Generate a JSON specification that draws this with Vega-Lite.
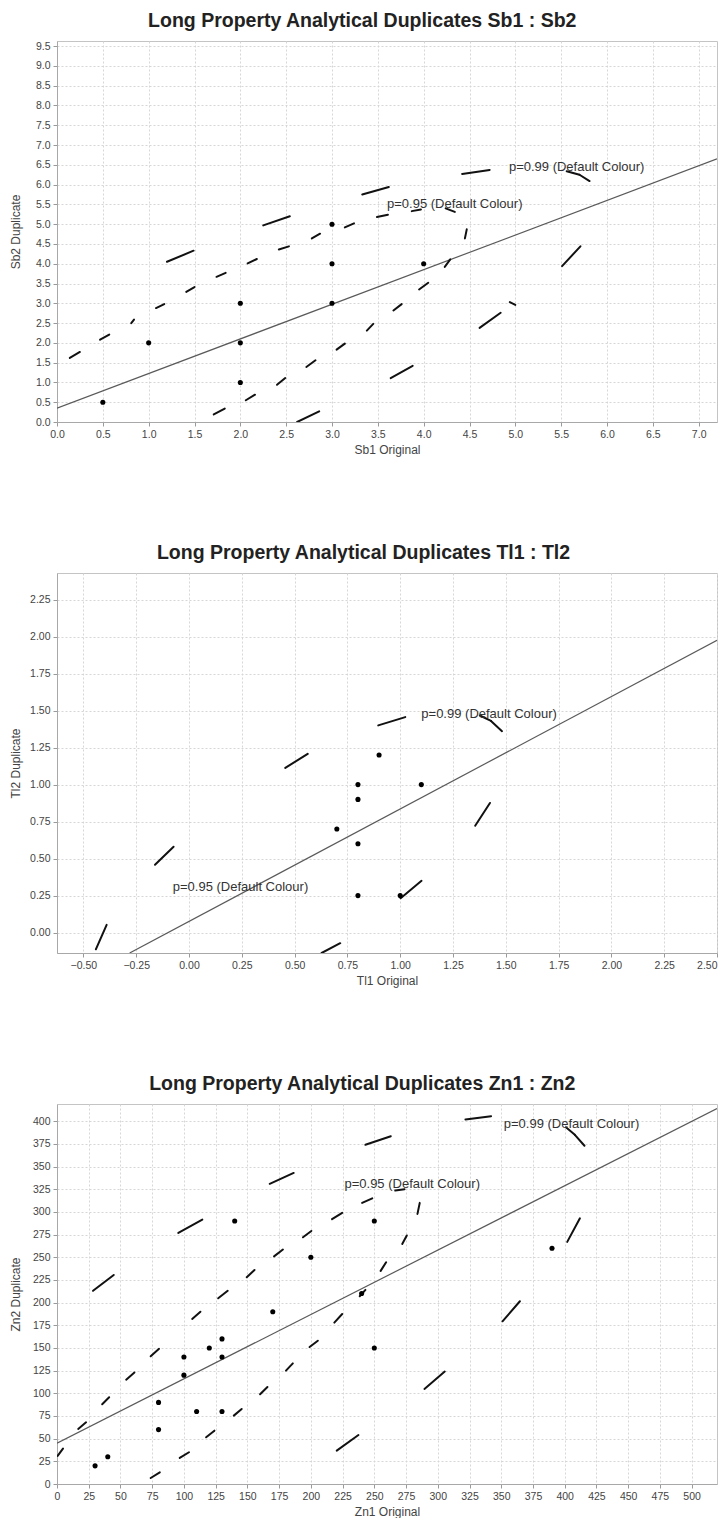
{
  "$schema": "https://vega.github.io/schema/vega-lite/v6.json",
  "background": "white",
  "padding": {"left": 9, "top": 10, "right": 8, "bottom": 0},
  "columns": 1,
  "spacing": 86,
  "datasets": {
    "sb_points": [
      {"x": 0.5, "y": 0.5}, {"x": 1.0, "y": 2.0}, {"x": 2.0, "y": 3.0}, {"x": 2.0, "y": 2.0},
      {"x": 2.0, "y": 1.0}, {"x": 3.0, "y": 5.0}, {"x": 3.0, "y": 4.0}, {"x": 3.0, "y": 3.0},
      {"x": 4.0, "y": 4.0}
    ],
    "sb_fit": [{"x": 0, "y": 0.35}, {"x": 7.2, "y": 6.65}],
    "sb_ellipse": [
      {"level": "0.95", "x": 0.14, "y": 1.62, "x2": 0.25, "y2": 1.77},
      {"level": "0.95", "x": 0.47, "y": 2.08, "x2": 0.57, "y2": 2.21},
      {"level": "0.95", "x": 0.81, "y": 2.50, "x2": 0.84, "y2": 2.59},
      {"level": "0.95", "x": 1.08, "y": 2.88, "x2": 1.17, "y2": 2.98},
      {"level": "0.95", "x": 1.41, "y": 3.29, "x2": 1.50, "y2": 3.41},
      {"level": "0.95", "x": 1.74, "y": 3.67, "x2": 1.84, "y2": 3.77},
      {"level": "0.95", "x": 2.08, "y": 4.01, "x2": 2.18, "y2": 4.12},
      {"level": "0.95", "x": 2.42, "y": 4.36, "x2": 2.53, "y2": 4.44},
      {"level": "0.95", "x": 2.78, "y": 4.64, "x2": 2.87, "y2": 4.76},
      {"level": "0.95", "x": 3.14, "y": 4.92, "x2": 3.24, "y2": 5.02},
      {"level": "0.95", "x": 3.49, "y": 5.18, "x2": 3.61, "y2": 5.24},
      {"level": "0.95", "x": 3.87, "y": 5.33, "x2": 3.97, "y2": 5.37},
      {"level": "0.95", "x": 4.24, "y": 5.40, "x2": 4.34, "y2": 5.31},
      {"level": "0.95", "x": 4.47, "y": 4.87, "x2": 4.45, "y2": 4.64},
      {"level": "0.95", "x": 4.23, "y": 3.92, "x2": 4.29, "y2": 4.11},
      {"level": "0.95", "x": 3.95, "y": 3.35, "x2": 4.05, "y2": 3.52},
      {"level": "0.95", "x": 3.67, "y": 2.82, "x2": 3.76, "y2": 2.98},
      {"level": "0.95", "x": 3.38, "y": 2.31, "x2": 3.45, "y2": 2.48},
      {"level": "0.95", "x": 3.05, "y": 1.83, "x2": 3.14, "y2": 1.98},
      {"level": "0.95", "x": 2.72, "y": 1.39, "x2": 2.82, "y2": 1.56},
      {"level": "0.95", "x": 2.40, "y": 0.94, "x2": 2.49, "y2": 1.11},
      {"level": "0.95", "x": 2.06, "y": 0.55, "x2": 2.16, "y2": 0.69},
      {"level": "0.95", "x": 1.71, "y": 0.19, "x2": 1.83, "y2": 0.34},
      {"level": "0.99", "x": 1.20, "y": 4.05, "x2": 1.49, "y2": 4.33},
      {"level": "0.99", "x": 2.25, "y": 4.97, "x2": 2.54, "y2": 5.20},
      {"level": "0.99", "x": 3.33, "y": 5.75, "x2": 3.62, "y2": 5.94},
      {"level": "0.99", "x": 4.42, "y": 6.27, "x2": 4.72, "y2": 6.37},
      {"level": "0.99", "x": 5.56, "y": 6.34, "x2": 5.70, "y2": 6.25},
      {"level": "0.99", "x": 5.70, "y": 6.25, "x2": 5.81, "y2": 6.09},
      {"level": "0.99", "x": 5.51, "y": 3.94, "x2": 5.71, "y2": 4.44},
      {"level": "0.99", "x": 4.94, "y": 3.03, "x2": 5.00, "y2": 2.96},
      {"level": "0.99", "x": 4.61, "y": 2.38, "x2": 4.84, "y2": 2.76},
      {"level": "0.99", "x": 3.64, "y": 1.11, "x2": 3.88, "y2": 1.42},
      {"level": "0.99", "x": 2.62, "y": 0.0, "x2": 2.86, "y2": 0.27}
    ],
    "sb_labels": [
      {"x": 4.93, "y": 6.45, "label": "p=0.99 (Default Colour)"},
      {"x": 3.60, "y": 5.52, "label": "p=0.95 (Default Colour)"}
    ],
    "tl_points": [
      {"x": 0.7, "y": 0.7}, {"x": 0.8, "y": 1.0}, {"x": 0.8, "y": 0.9}, {"x": 0.8, "y": 0.6},
      {"x": 0.8, "y": 0.25}, {"x": 0.9, "y": 1.2}, {"x": 1.0, "y": 0.25}, {"x": 1.1, "y": 1.0}
    ],
    "tl_fit": [{"x": -0.281, "y": -0.138}, {"x": 2.5, "y": 1.975}],
    "tl_ellipse": [
      {"level": "0.99", "x": 0.896, "y": 1.400, "x2": 1.024, "y2": 1.456},
      {"level": "0.99", "x": 1.377, "y": 1.467, "x2": 1.430, "y2": 1.430},
      {"level": "0.99", "x": 1.430, "y": 1.430, "x2": 1.482, "y2": 1.361},
      {"level": "0.99", "x": 1.425, "y": 0.876, "x2": 1.355, "y2": 0.722},
      {"level": "0.99", "x": 1.002, "y": 0.232, "x2": 1.101, "y2": 0.350},
      {"level": "0.99", "x": 0.716, "y": -0.072, "x2": 0.628, "y2": -0.138},
      {"level": "0.95", "x": -0.390, "y": 0.052, "x2": -0.441, "y2": -0.113},
      {"level": "0.95", "x": -0.073, "y": 0.580, "x2": -0.161, "y2": 0.458},
      {"level": "0.95", "x": 0.562, "y": 1.208, "x2": 0.456, "y2": 1.113}
    ],
    "tl_labels": [
      {"x": 1.10, "y": 1.478, "label": "p=0.99 (Default Colour)"},
      {"x": -0.077, "y": 0.305, "label": "p=0.95 (Default Colour)"}
    ],
    "zn_points": [
      {"x": 30, "y": 20}, {"x": 40, "y": 30}, {"x": 80, "y": 90}, {"x": 80, "y": 60},
      {"x": 100, "y": 140}, {"x": 100, "y": 120}, {"x": 110, "y": 80}, {"x": 120, "y": 150},
      {"x": 130, "y": 160}, {"x": 130, "y": 140}, {"x": 130, "y": 80}, {"x": 140, "y": 290},
      {"x": 170, "y": 190}, {"x": 200, "y": 250}, {"x": 240, "y": 210}, {"x": 250, "y": 290},
      {"x": 250, "y": 150}, {"x": 390, "y": 260}
    ],
    "zn_fit": [{"x": 0, "y": 45}, {"x": 520, "y": 414}],
    "zn_ellipse": [
      {"level": "0.95", "x": 0.5, "y": 31, "x2": 4.7, "y2": 39},
      {"level": "0.95", "x": 16.7, "y": 60.7, "x2": 22.9, "y2": 68},
      {"level": "0.95", "x": 35.6, "y": 88, "x2": 41.1, "y2": 95.6},
      {"level": "0.95", "x": 54.5, "y": 115, "x2": 61, "y2": 123},
      {"level": "0.95", "x": 73.8, "y": 140.8, "x2": 80.4, "y2": 149},
      {"level": "0.95", "x": 106.5, "y": 182, "x2": 113, "y2": 190},
      {"level": "0.95", "x": 127, "y": 204.8, "x2": 134.5, "y2": 213},
      {"level": "0.95", "x": 149.5, "y": 228, "x2": 155.6, "y2": 236},
      {"level": "0.95", "x": 171, "y": 251, "x2": 178, "y2": 258.5},
      {"level": "0.95", "x": 193.8, "y": 272, "x2": 200.4, "y2": 279},
      {"level": "0.95", "x": 216.7, "y": 292, "x2": 224.7, "y2": 299},
      {"level": "0.95", "x": 240.4, "y": 310, "x2": 248.4, "y2": 315},
      {"level": "0.95", "x": 266.5, "y": 323.5, "x2": 273.8, "y2": 325},
      {"level": "0.95", "x": 285.8, "y": 310, "x2": 284, "y2": 297.8},
      {"level": "0.95", "x": 275.6, "y": 274, "x2": 272, "y2": 264.7},
      {"level": "0.95", "x": 259.3, "y": 244.5, "x2": 255, "y2": 235},
      {"level": "0.95", "x": 238.5, "y": 207, "x2": 243, "y2": 214},
      {"level": "0.95", "x": 224.7, "y": 187.5, "x2": 218.5, "y2": 178},
      {"level": "0.95", "x": 205.5, "y": 158, "x2": 199, "y2": 151},
      {"level": "0.95", "x": 185.8, "y": 133, "x2": 180.4, "y2": 125},
      {"level": "0.95", "x": 165.8, "y": 107, "x2": 160, "y2": 99},
      {"level": "0.95", "x": 145.5, "y": 82.7, "x2": 139.3, "y2": 75.4},
      {"level": "0.95", "x": 124, "y": 58.8, "x2": 117.5, "y2": 51.5},
      {"level": "0.95", "x": 104, "y": 35, "x2": 96.7, "y2": 28.7},
      {"level": "0.95", "x": 81, "y": 12.9, "x2": 73.8, "y2": 6.6},
      {"level": "0.99", "x": 28.4, "y": 213, "x2": 44.7, "y2": 230.5},
      {"level": "0.99", "x": 95.6, "y": 276.8, "x2": 114.5, "y2": 291.5},
      {"level": "0.99", "x": 167.6, "y": 331, "x2": 186.5, "y2": 343},
      {"level": "0.99", "x": 243, "y": 374, "x2": 263, "y2": 383.5},
      {"level": "0.99", "x": 321.8, "y": 402, "x2": 342, "y2": 405.5},
      {"level": "0.99", "x": 401, "y": 393.4, "x2": 408, "y2": 385},
      {"level": "0.99", "x": 408, "y": 385, "x2": 415.6, "y2": 373},
      {"level": "0.99", "x": 412, "y": 293, "x2": 402, "y2": 267},
      {"level": "0.99", "x": 364.7, "y": 201.5, "x2": 351, "y2": 179.4},
      {"level": "0.99", "x": 305.5, "y": 124, "x2": 289.5, "y2": 104.8},
      {"level": "0.99", "x": 237.5, "y": 54, "x2": 220.4, "y2": 36.8}
    ],
    "zn_labels": [
      {"x": 352, "y": 396.5, "label": "p=0.99 (Default Colour)"},
      {"x": 226.5, "y": 331, "label": "p=0.95 (Default Colour)"}
    ]
  },
  "concat": [
    {
      "width": 660,
      "height": 381,
      "title": {"text": "Long Property Analytical Duplicates Sb1 : Sb2", "dx": -1},
      "encoding": {
        "x": {"field": "x", "type": "quantitative", "title": "Sb1 Original",
              "scale": {"domain": [0, 7.2], "nice": false, "zero": false},
              "axis": {"values": [0, 0.5, 1, 1.5, 2, 2.5, 3, 3.5, 4, 4.5, 5, 5.5, 6, 6.5, 7], "format": ".1f"}},
        "y": {"field": "y", "type": "quantitative", "title": "Sb2 Duplicate",
              "scale": {"domain": [0, 9.63], "nice": false, "zero": false},
              "axis": {"values": [0, 0.5, 1, 1.5, 2, 2.5, 3, 3.5, 4, 4.5, 5, 5.5, 6, 6.5, 7, 7.5, 8, 8.5, 9, 9.5], "format": ".1f",
                       "minExtent": 29.5, "maxExtent": 29.5}}
      },
      "layer": [
        {"data": {"name": "sb_fit"}, "mark": {"type": "line", "color": "#5a5a5a", "strokeWidth": 1.2, "clip": true}},
        {"data": {"name": "sb_ellipse"}, "mark": {"type": "rule", "color": "#111", "strokeWidth": 2, "strokeCap": "round", "clip": true},
         "encoding": {"x2": {"field": "x2"}, "y2": {"field": "y2"}}},
        {"data": {"name": "sb_points"}, "mark": {"type": "circle", "color": "#000", "size": 26, "opacity": 1}},
        {"data": {"name": "sb_labels"}, "mark": {"type": "text", "align": "left", "baseline": "middle", "fontSize": 13, "color": "#333"},
         "encoding": {"text": {"field": "label"}}}
      ]
    },
    {
      "width": 660,
      "height": 380,
      "title": {"text": "Long Property Analytical Duplicates Tl1 : Tl2", "dx": 0},
      "encoding": {
        "x": {"field": "x", "type": "quantitative", "title": "Tl1 Original",
              "scale": {"domain": [-0.625, 2.5], "nice": false, "zero": false},
              "axis": {"values": [-0.5, -0.25, 0, 0.25, 0.5, 0.75, 1, 1.25, 1.5, 1.75, 2, 2.25, 2.5], "format": ".2f", "labelFlush": true}},
        "y": {"field": "y", "type": "quantitative", "title": "Tl2 Duplicate",
              "scale": {"domain": [-0.138, 2.43], "nice": false, "zero": false},
              "axis": {"values": [0, 0.25, 0.5, 0.75, 1, 1.25, 1.5, 1.75, 2, 2.25], "format": ".2f",
                       "minExtent": 29.5, "maxExtent": 29.5}}
      },
      "layer": [
        {"data": {"name": "tl_fit"}, "mark": {"type": "line", "color": "#5a5a5a", "strokeWidth": 1.2, "clip": true}},
        {"data": {"name": "tl_ellipse"}, "mark": {"type": "rule", "color": "#111", "strokeWidth": 2, "strokeCap": "round", "clip": true},
         "encoding": {"x2": {"field": "x2"}, "y2": {"field": "y2"}}},
        {"data": {"name": "tl_points"}, "mark": {"type": "circle", "color": "#000", "size": 26, "opacity": 1}},
        {"data": {"name": "tl_labels"}, "mark": {"type": "text", "align": "left", "baseline": "middle", "fontSize": 13, "color": "#333"},
         "encoding": {"text": {"field": "label"}}}
      ]
    },
    {
      "width": 660,
      "height": 380,
      "title": {"text": "Long Property Analytical Duplicates Zn1 : Zn2", "dx": -1},
      "encoding": {
        "x": {"field": "x", "type": "quantitative", "title": "Zn1 Original",
              "scale": {"domain": [0, 520], "nice": false, "zero": false},
              "axis": {"values": [0, 25, 50, 75, 100, 125, 150, 175, 200, 225, 250, 275, 300, 325, 350, 375, 400, 425, 450, 475, 500], "format": "d"}},
        "y": {"field": "y", "type": "quantitative", "title": "Zn2 Duplicate",
              "scale": {"domain": [0, 419], "nice": false, "zero": false},
              "axis": {"values": [0, 25, 50, 75, 100, 125, 150, 175, 200, 225, 250, 275, 300, 325, 350, 375, 400], "format": "d",
                       "minExtent": 29.5, "maxExtent": 29.5}}
      },
      "layer": [
        {"data": {"name": "zn_fit"}, "mark": {"type": "line", "color": "#5a5a5a", "strokeWidth": 1.2, "clip": true}},
        {"data": {"name": "zn_ellipse"}, "mark": {"type": "rule", "color": "#111", "strokeWidth": 2, "strokeCap": "round", "clip": true},
         "encoding": {"x2": {"field": "x2"}, "y2": {"field": "y2"}}},
        {"data": {"name": "zn_points"}, "mark": {"type": "circle", "color": "#000", "size": 26, "opacity": 1}},
        {"data": {"name": "zn_labels"}, "mark": {"type": "text", "align": "left", "baseline": "middle", "fontSize": 13, "color": "#333"},
         "encoding": {"text": {"field": "label"}}}
      ]
    }
  ],
  "config": {
    "font": "Liberation Sans",
    "view": {"stroke": "#c4c4c4", "strokeWidth": 1},
    "title": {"fontSize": 19.5, "fontWeight": "bold", "color": "#222", "anchor": "middle", "frame": "bounds", "offset": 10, "font": "Liberation Sans"},
    "axis": {
      "labelFont": "Liberation Sans", "labelFontSize": 10.5, "labelColor": "#444", "labelFlush": false,
      "titleFont": "Liberation Sans", "titleFontSize": 12, "titleFontWeight": "normal", "titleColor": "#444",
      "gridColor": "#d6d6d6", "gridDash": [2, 2], "gridWidth": 1,
      "tickColor": "#9a9a9a", "tickSize": 4, "domainColor": "#a8a8a8",
      "labelPadding": 3, "titlePadding": 5, "labelOverlap": false
    }
  }
}
